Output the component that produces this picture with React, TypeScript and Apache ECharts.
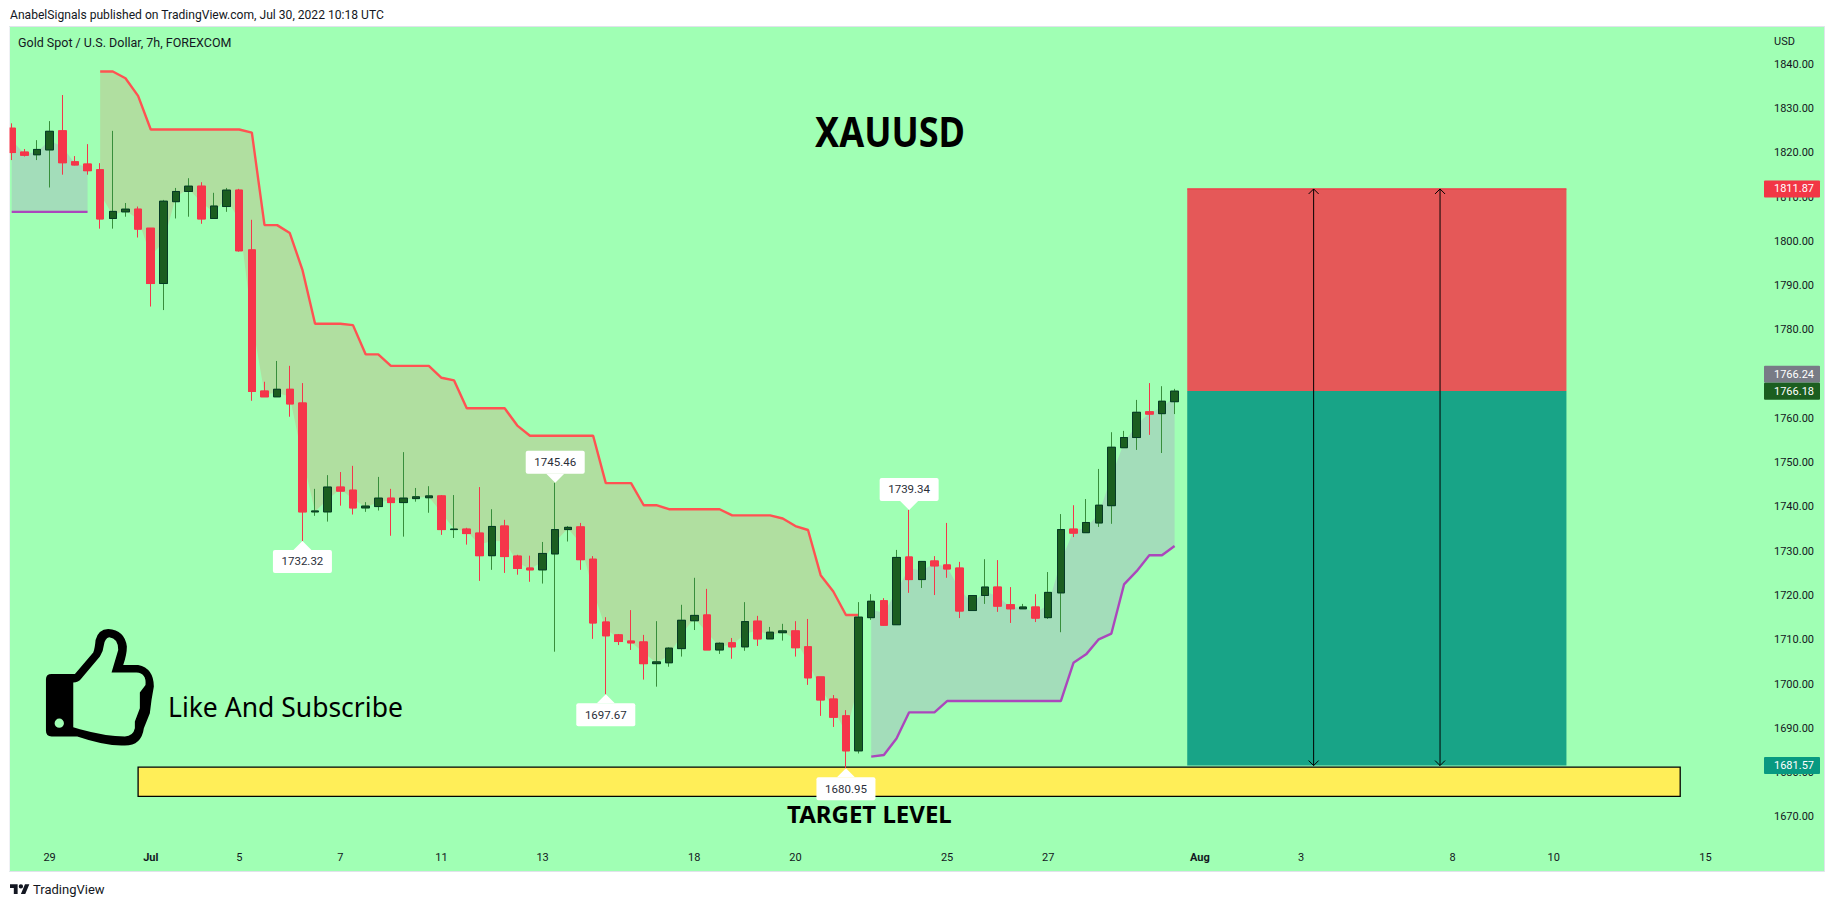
import React, { useEffect, useRef } from "react";
import * as echarts from "echarts";

const tickIndex = [3, 11, 18, 26, 34, 42, 54, 62, 74, 82, 94, 102, 114, 122, 134];
const tickLabels = ["29", "Jul", "5", "7", "11", "13", "18", "20", "25", "27", "Aug", "3", "8", "10", "15"];
const priceTicks = [1670, 1680, 1690, 1700, 1710, 1720, 1730, 1740, 1750, 1760, 1770, 1780, 1790, 1800, 1810, 1820, 1830, 1840];

const opens = [
  1825.6, 1820.2, 1819.6, 1820.7, 1825.0, 1818.0, 1817.5, 1816.2, 1805.2, 1806.7,
  1807.3, 1803.0, 1790.5, 1809.0, 1811.3, 1812.5, 1805.2, 1807.9, 1811.6, 1798.1,
  1766.2, 1764.9, 1766.6, 1763.5, 1738.9, 1738.9, 1744.5, 1743.8, 1739.8, 1740.1,
  1742.0, 1741.0, 1741.9, 1742.1, 1742.5, 1734.9, 1735.0, 1734.1, 1729.0, 1735.7,
  1728.9, 1726.2, 1725.8, 1729.4, 1734.9, 1735.5, 1728.2, 1714.0, 1711.1, 1709.7,
  1709.5, 1704.6, 1704.8, 1708.0, 1714.3, 1715.6, 1707.7, 1709.3, 1708.4, 1714.2,
  1710.2, 1711.6, 1712.0, 1708.4, 1701.6, 1696.6, 1692.8, 1684.9, 1715.0, 1718.8,
  1713.4, 1728.7, 1723.6, 1727.8, 1726.9, 1726.2, 1716.6, 1720.0, 1721.9, 1717.9,
  1717.0, 1717.4, 1715.0, 1720.6, 1735.0, 1734.2, 1736.4, 1740.3, 1753.4, 1755.7,
  1761.5, 1761.1, 1763.8,
];
const closes = [
  1820.1, 1819.5, 1820.8, 1824.9, 1817.8, 1817.3, 1816.0, 1805.1, 1806.8, 1807.3,
  1802.8, 1790.5, 1809.1, 1811.3, 1812.5, 1805.1, 1808.0, 1811.6, 1797.9, 1766.1,
  1764.9, 1766.6, 1763.3, 1738.9, 1739.1, 1744.5, 1743.6, 1739.8, 1740.2, 1742.0,
  1741.0, 1742.0, 1742.3, 1742.5, 1734.9, 1735.0, 1734.0, 1729.0, 1735.6, 1728.8,
  1726.1, 1725.8, 1729.5, 1734.9, 1735.4, 1728.1, 1713.8, 1710.9, 1709.6, 1709.3,
  1704.6, 1705.0, 1708.1, 1714.4, 1715.5, 1707.7, 1709.2, 1708.4, 1714.1, 1710.2,
  1711.7, 1712.0, 1708.2, 1701.4, 1696.4, 1692.5, 1684.9, 1715.1, 1718.7, 1713.3,
  1728.6, 1723.6, 1727.7, 1726.7, 1726.0, 1716.5, 1720.0, 1721.9, 1717.6, 1717.0,
  1717.4, 1714.9, 1720.7, 1734.9, 1734.1, 1736.5, 1740.4, 1753.5, 1755.7, 1761.4,
  1761.0, 1763.9, 1766.18,
];
const lows = [
  1818.4, 1819.2, 1818.4, 1812.2, 1815.1, 1817.2, 1815.1, 1802.9, 1802.9, 1805.6,
  1800.9, 1785.3, 1784.5, 1805.2, 1805.6, 1804.0, 1805.1, 1806.7, 1797.7, 1764.0,
  1764.9, 1764.9, 1760.4, 1732.32, 1738.0, 1736.7, 1740.3, 1738.3, 1738.9, 1739.2,
  1733.5, 1733.3, 1741.2, 1738.7, 1733.7, 1733.0, 1731.5, 1723.3, 1725.8, 1725.1,
  1724.7, 1723.1, 1722.7, 1707.3, 1732.2, 1725.8, 1710.2, 1697.67, 1708.8, 1707.7,
  1701.0, 1699.4, 1703.9, 1706.2, 1712.2, 1707.7, 1706.8, 1705.7, 1707.5, 1708.6,
  1710.2, 1709.8, 1706.2, 1699.8, 1692.8, 1690.3, 1680.95, 1684.3, 1714.5, 1713.2,
  1713.4, 1720.6, 1721.7, 1720.1, 1724.0, 1714.9, 1716.6, 1718.1, 1716.3, 1713.8,
  1717.0, 1714.0, 1714.7, 1711.7, 1733.2, 1734.2, 1735.5, 1736.2, 1753.4, 1752.9,
  1756.3, 1752.2, 1761.0,
];
const highs = [
  1826.7, 1820.9, 1822.9, 1827.2, 1833.1, 1819.3, 1822.0, 1817.7, 1825.0, 1808.7,
  1807.9, 1803.0, 1809.4, 1812.1, 1814.3, 1813.4, 1811.0, 1812.1, 1811.9, 1804.9,
  1768.3, 1773.0, 1771.9, 1768.0, 1744.1, 1747.2, 1747.9, 1749.3, 1741.1, 1746.8,
  1744.1, 1752.4, 1744.3, 1744.7, 1742.7, 1742.7, 1735.3, 1744.5, 1739.5, 1737.1,
  1729.2, 1729.0, 1732.1, 1745.46, 1735.7, 1736.4, 1728.9, 1715.1, 1711.3, 1716.7,
  1711.1, 1714.2, 1708.3, 1717.9, 1724.0, 1721.5, 1709.4, 1710.4, 1718.5, 1715.4,
  1712.9, 1713.6, 1714.2, 1714.7, 1701.6, 1697.5, 1694.1, 1718.5, 1720.3, 1719.4,
  1730.3, 1739.34, 1727.8, 1728.9, 1736.4, 1727.6, 1720.0, 1728.2, 1728.0, 1721.9,
  1718.1, 1720.3, 1725.3, 1738.4, 1740.4, 1741.8, 1748.6, 1756.9, 1757.2, 1764.2,
  1768.0, 1767.3, 1766.7,
];

// Trend lines. Each run starts at the candle index given beside it.
const purpleRunAStart = 0;
const purpleRunA = [1806.7, 1806.7, 1806.7, 1806.7, 1806.7, 1806.7, 1806.7];
const redRunStart = 7;
const redRun = [
  1838.4, 1838.4, 1836.9, 1832.9, 1825.3, 1825.3, 1825.3, 1825.3, 1825.3, 1825.3,
  1825.3, 1825.3, 1824.6, 1803.7, 1803.7, 1801.9, 1793.6, 1781.4, 1781.4, 1781.4,
  1781.1, 1774.5, 1774.5, 1771.9, 1771.9, 1771.9, 1771.9, 1769.2, 1768.6, 1762.3,
  1762.3, 1762.3, 1762.3, 1758.4, 1756.1, 1756.1, 1756.1, 1756.1, 1756.1, 1756.1,
  1745.4, 1745.4, 1745.4, 1740.4, 1740.4, 1739.5, 1739.5, 1739.5, 1739.5, 1739.5,
  1738.1, 1738.1, 1738.1, 1738.1, 1737.4, 1735.7, 1734.8, 1724.6, 1720.9, 1715.6,
  1715.6,
];
const purpleRunBStart = 68;
const purpleRunB = [
  1683.6, 1683.95, 1687.7, 1693.6, 1693.6, 1693.6, 1696.15, 1696.15, 1696.15, 1696.15,
  1696.15, 1696.15, 1696.15, 1696.15, 1696.15, 1696.15, 1704.8, 1706.7, 1710.1, 1711.4,
  1722.5, 1725.5, 1729.1, 1729.1, 1731.2,
];

const calloutIndex = [23, 43, 47, 66, 71];
const calloutPrice = [1732.32, 1745.46, 1697.67, 1680.95, 1739.34];
const calloutSide = ["below", "above", "below", "below", "above"];

const tagPrice = [1811.87, 1766.24, 1766.18, 1681.57];
const tagColor = ["#f23645", "#787b86", "#1b5e20", "#089981"];

const stopPrice = 1811.87;
const entryPrice = 1766.2;
const targetPrice = 1681.57;
const positionFrom = 93;
const positionTo = 123;
const arrowIndex = [103, 113];
const bandFrom = 10;
const bandTo = 132;
const bandHigh = 1681.2;
const bandLow = 1674.6;

const BG = "#a0ffb4";
const RED = "#f5364a";
const GREEN = "#1b5e20";
const GREEN_EDGE = "#063b26";
const GREEN_WICK = "#388e3c";
const UI = "Roboto";

const thumbPath =
  "M155 222L225 222L280 158Q285 145 287 120Q295 88 325 87Q375 90 381 140Q381 165 370 195L415 195Q462 205 462 260L455 300L450 340L432 385Q425 437 375 437Q320 440 232 410L155 410Q138 410 138 393L138 238Q138 222 155 222Z" +
  "M220 248L220 382L240 388Q320 410 375 410Q400 408 405 385L405 365L420 325L420 278L437 255Q440 220 410 218L335 218L355 150Q355 115 328 112Q315 115 312 135Q310 155 300 170L245 235Q235 248 220 248Z" +
  "M192 370A14 14 0 1 0 164 370A14 14 0 1 0 192 370Z";
const tvPath =
  "M14 22H7V11H0V4h14v18zM28 22h-8l7.5-18h8L28 22zM24 8A4 4 0 1 1 16 8A4 4 0 1 1 24 8Z";

echarts.graphic.registerShape("thumbLike", echarts.graphic.extendPath(thumbPath, {}));
echarts.graphic.registerShape("tvLogo", echarts.graphic.extendPath(tvPath, {}));

const text = (t: string, x: number, y: number, font: string, fill = "#131722", extra: any = {}) => ({
  type: "text",
  x,
  y,
  silent: true,
  z: 10,
  style: { text: t, font, fill, textAlign: "left", textVerticalAlign: "middle", align: "left", verticalAlign: "middle" },
  ...extra,
});

const candles = opens.map((o, i) => [i, o, closes[i], lows[i], highs[i]]);
const bodies = opens.map((o, i) => [i, o, closes[i], Math.min(o, closes[i]), Math.max(o, closes[i])]);
const mid = (i: number) => (opens[i] + closes[i]) / 2;
const run = (start: number, vals: number[]) => vals.map((v, k) => [start + k, v]);

// Fill between a trend run and the candle body middles, as one polygon.
const cloud = (start: number, vals: number[], fill: string, z: number) => ({
  type: "custom",
  silent: true,
  clip: true,
  z,
  data: [[start, vals[0]]],
  encode: { x: 0, y: 1 },
  renderItem: (_p: any, api: any) => {
    const top = vals.map((v, k) => api.coord([start + k, v]));
    const bottom = vals.map((_v, k) => api.coord([start + k, mid(start + k)])).reverse();
    return { type: "polygon", shape: { points: top.concat(bottom) }, style: { fill } };
  },
});

const box = (x0: number, x1: number, p0: number, p1: number, fill: string, stroke: string | null, z: number) => ({
  type: "custom",
  silent: true,
  z,
  data: [[x0, p0]],
  encode: { x: 0, y: 1 },
  renderItem: (_p: any, api: any) => {
    const a = api.coord([x0, p0]);
    const b = api.coord([x1, p1]);
    return {
      type: "rect",
      shape: { x: a[0], y: a[1], width: b[0] - a[0], height: b[1] - a[1] },
      style: { fill, stroke: stroke ?? undefined, lineWidth: stroke ? 1.3 : 0 },
    };
  },
});

const trendLine = (start: number, vals: number[], color: string) => ({
  type: "line",
  silent: true,
  z: 3,
  symbol: "none",
  data: run(start, vals),
  lineStyle: { color, width: 2.4 },
});

function App() {
  const ref = useRef<HTMLDivElement>(null);
  useEffect(() => {
    const chart = echarts.init(ref.current!, null, { renderer: "svg" });
    const option: any = {
      animation: false,
      backgroundColor: "#ffffff",
      grid: { left: 10, top: 27, width: 1754, height: 816, containLabel: false },
      xAxis: {
        type: "value",
        min: -0.1345,
        max: 138.63,
        axisLine: { show: false },
        axisTick: { show: false },
        splitLine: { show: false },
        axisLabel: {
          customValues: tickIndex,
          margin: 9,
          color: "#131722",
          fontFamily: UI,
          fontSize: 11,
          hideOverlap: false,
          formatter: (v: number) => {
            const label = tickLabels[tickIndex.indexOf(Math.round(v))] ?? "";
            return /[A-Za-z]/.test(label) ? `{b|${label}}` : label;
          },
          rich: { b: { fontWeight: "bold", fontFamily: UI, fontSize: 11, color: "#131722" } },
        },
      },
      yAxis: {
        type: "value",
        position: "right",
        min: 1664.07,
        max: 1848.47,
        axisLine: { show: false },
        axisTick: { show: false },
        splitLine: { show: false },
        axisLabel: {
          customValues: priceTicks,
          margin: 10,
          color: "#131722",
          fontFamily: UI,
          fontSize: 11,
          formatter: (v: number) => v.toFixed(2),
        },
      },
      graphic: {
        elements: [
          { type: "rect", z: -10, silent: true, shape: { x: 9.5, y: 26.5, width: 1815, height: 845 }, style: { fill: BG, stroke: "#e0e3eb", lineWidth: 1 } },
          // page margin: keeps the first, cut-off candle inside the panel
          { type: "rect", z: 20, silent: true, shape: { x: 0, y: 27, width: 9.5, height: 844 }, style: { fill: "#ffffff" } },
          text("AnabelSignals published on TradingView.com, Jul 30, 2022 10:18 UTC", 10, 15, `12.1px ${UI}`),
          text("Gold Spot / U.S. Dollar, 7h, FOREXCOM", 18, 42, `12.5px ${UI}`),
          text("USD", 1774, 41, `11px ${UI}`),
          text("XAUUSD", 815, 131, `bold 41px "Noto Sans"`, "#000000", { scaleX: 0.88 }),
          text("Like And Subscribe", 168, 707, `26.5px "Noto Sans"`, "#000000"),
          text("TARGET LEVEL", 787, 813, `bold 24px "Noto Sans"`, "#000000"),
          text("TradingView", 33, 889, `13px ${UI}`),
          { type: "thumbLike", x: 0, y: 600, scaleX: 1 / 3, scaleY: 1 / 3, z: 10, silent: true, style: { fill: "#000" } },
          { type: "tvLogo", x: 10, y: 882, scaleX: 0.545, scaleY: 0.545, z: 10, silent: true, style: { fill: "#131722" } },
        ],
      },
      series: [
        box(positionFrom, positionTo, stopPrice, entryPrice, "#e55858", null, 1),
        box(positionFrom, positionTo, entryPrice, targetPrice, "#18a487", null, 1),
        box(positionFrom, positionTo, stopPrice, stopPrice, "none", "#f23645", 1),
        box(bandFrom, bandTo, bandHigh, bandLow, "#ffee58", "#000000", 1),
        cloud(purpleRunAStart, purpleRunA, "#a3ddba", 1),
        cloud(redRunStart, redRun, "#b0dfa0", 1),
        cloud(purpleRunBStart, purpleRunB, "#a3ddba", 1),
        trendLine(purpleRunAStart, purpleRunA, "#ab47bc"),
        trendLine(redRunStart, redRun, "#ff5252"),
        trendLine(purpleRunBStart, purpleRunB, "#ab47bc"),
        {
          type: "candlestick",
          silent: true,
          z: 4,
          barWidth: 8,
          encode: { x: 0, y: [1, 2, 3, 4] },
          data: candles,
          itemStyle: { color: GREEN, color0: RED, borderColor: GREEN_WICK, borderColor0: RED, borderWidth: 1 },
        },
        {
          type: "candlestick",
          silent: true,
          z: 5,
          barWidth: 8,
          encode: { x: 0, y: [1, 2, 3, 4] },
          data: bodies,
          itemStyle: { color: GREEN, color0: RED, borderColor: GREEN_EDGE, borderColor0: RED, borderWidth: 1 },
        },
        {
          // position arrows
          type: "custom",
          silent: true,
          z: 6,
          data: arrowIndex.map((i) => [i, entryPrice]),
          encode: { x: 0, y: 1 },
          renderItem: (_p: any, api: any) => {
            const x = api.value(0);
            const t = api.coord([x, stopPrice]);
            const b = api.coord([x, targetPrice]);
            const s = { stroke: "#000", lineWidth: 1, fill: "none" };
            return {
              type: "group",
              children: [
                { type: "line", shape: { x1: t[0], y1: t[1], x2: b[0], y2: b[1] }, style: s },
                { type: "polyline", shape: { points: [[t[0] - 5, t[1] + 5], [t[0], t[1]], [t[0] + 5, t[1] + 5]] }, style: s },
                { type: "polyline", shape: { points: [[b[0] - 5, b[1] - 5], [b[0], b[1]], [b[0] + 5, b[1] - 5]] }, style: s },
              ],
            };
          },
        },
        {
          // high / low callouts
          type: "custom",
          silent: true,
          z: 7,
          data: calloutIndex.map((i, k) => [i, calloutPrice[k], k]),
          encode: { x: 0, y: 1 },
          renderItem: (_p: any, api: any) => {
            const k = api.value(2);
            const c = api.coord([api.value(0), api.value(1)]);
            const dir = calloutSide[k] === "below" ? 1 : -1;
            const baseY = c[1] + dir * 9;
            const top = dir > 0 ? baseY : baseY - 23;
            return {
              type: "group",
              children: [
                { type: "polygon", shape: { points: [[c[0], c[1]], [c[0] - 9, baseY], [c[0] + 9, baseY]] }, style: { fill: "#fff" } },
                { type: "rect", shape: { x: c[0] - 29.5, y: top, width: 59, height: 23, r: 2 }, style: { fill: "#fff" } },
                {
                  type: "text",
                  style: {
                    text: calloutPrice[k].toFixed(2),
                    x: c[0],
                    y: top + 11.5,
                    fill: "#2a2e39",
                    font: `11.5px ${UI}`,
                    align: "center",
                    verticalAlign: "middle",
                    textAlign: "center",
                    textVerticalAlign: "middle",
                  },
                },
              ],
            };
          },
        },
        {
          // price scale tags
          type: "custom",
          silent: true,
          z: 8,
          data: tagPrice.map((p, k) => [138.63, p, k]),
          encode: { x: 0, y: 1 },
          renderItem: (_p: any, api: any) => {
            const k = api.value(2);
            const c = api.coord([api.value(0), api.value(1)]);
            const next = tagPrice[k + 1];
            const cy = next !== undefined && Math.abs(next - tagPrice[k]) < 1 ? c[1] - 16.7 : c[1];
            return {
              type: "group",
              children: [
                { type: "rect", shape: { x: c[0], y: cy - 8.5, width: 56, height: 17, r: 1 }, style: { fill: tagColor[k] } },
                {
                  type: "text",
                  style: {
                    text: tagPrice[k].toFixed(2),
                    x: c[0] + 10,
                    y: cy,
                    fill: "#fff",
                    font: `11px ${UI}`,
                    align: "left",
                    verticalAlign: "middle",
                    textAlign: "left",
                    textVerticalAlign: "middle",
                  },
                },
              ],
            };
          },
        },
      ],
    };
    chart.setOption(option);
    return () => chart.dispose();
  }, []);
  return <div ref={ref} style={{ position: "absolute", left: 0, top: 0, width: 1834, height: 907 }} />;
}

export default App;
